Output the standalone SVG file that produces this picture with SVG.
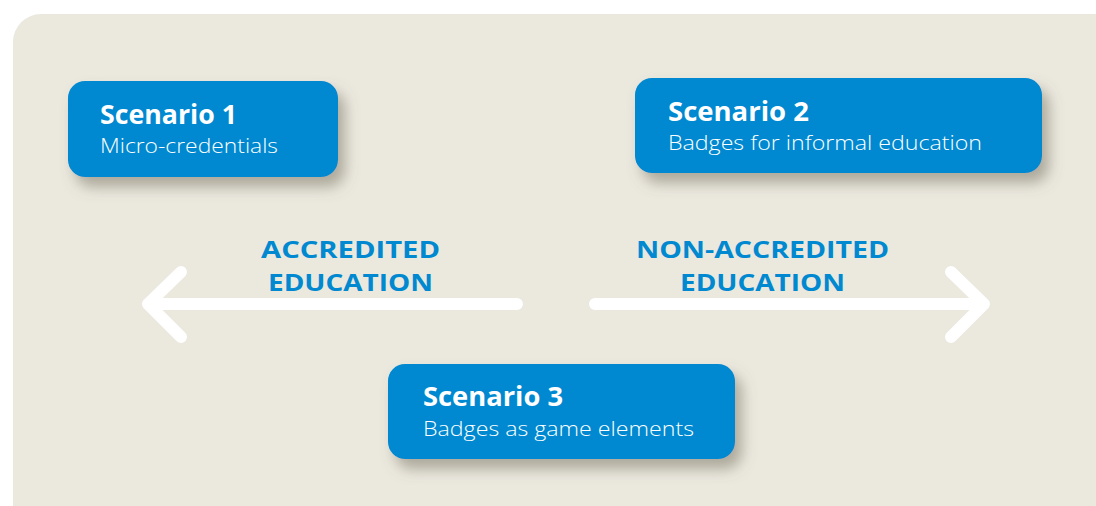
<svg xmlns="http://www.w3.org/2000/svg" width="1096" height="506" viewBox="0 0 1096 506">
  <defs>
    <filter id="shadow" x="-20%" y="-30%" width="150%" height="180%">
      <feDropShadow dx="7" dy="10" stdDeviation="7" flood-color="#6e6a58" flood-opacity="0.5"/>
    </filter>
    <style>
      .box { fill: #0089D0; filter: url(#shadow); }
      .title { font-family: "Open Sans", "Noto Sans", sans-serif; font-weight: 700; font-size: 26px; fill: #ffffff; }
      .sub { font-family: "Open Sans", "Noto Sans", sans-serif; font-weight: 300; font-size: 20px; fill: #ffffff; }
      .label { font-family: "Open Sans", "Noto Sans", sans-serif; font-weight: 700; font-size: 24px; fill: #0089D0; }
      .arrow { fill: none; stroke: #ffffff; stroke-width: 12; stroke-linecap: round; stroke-linejoin: round; }
    </style>
  </defs>
  <rect x="0" y="0" width="1096" height="506" fill="#ffffff"/>
  <rect x="13" y="14" width="1110" height="520" rx="28" ry="28" fill="#EBE8DE"/>

  <g id="connectors">
    <path class="arrow" d="M517 304 H148 M181 272 L148 304 L181 337"/>
    <path class="arrow" d="M595 304 H984 M951 272 L984 304 L951 337"/>
    <text class="label" x="261" y="258" textLength="179" lengthAdjust="spacingAndGlyphs">ACCREDITED</text>
    <text class="label" x="268" y="291" textLength="165" lengthAdjust="spacingAndGlyphs">EDUCATION</text>
    <text class="label" x="636" y="258" textLength="253" lengthAdjust="spacingAndGlyphs">NON-ACCREDITED</text>
    <text class="label" x="680" y="291" textLength="165" lengthAdjust="spacingAndGlyphs">EDUCATION</text>
  </g>

  <g id="scenario1">
    <rect class="box" x="68" y="81" width="270" height="96" rx="17" ry="17"/>
    <text class="title" x="100" y="124" textLength="137" lengthAdjust="spacingAndGlyphs">Scenario 1</text>
    <text class="sub" x="100" y="153" textLength="178" lengthAdjust="spacingAndGlyphs">Micro-credentials</text>
  </g>

  <g id="scenario2">
    <rect class="box" x="635" y="78" width="407" height="95" rx="17" ry="17"/>
    <text class="title" x="668" y="121" textLength="141" lengthAdjust="spacingAndGlyphs">Scenario 2</text>
    <text class="sub" x="668" y="150" textLength="314" lengthAdjust="spacingAndGlyphs">Badges for informal education</text>
  </g>

  <g id="scenario3">
    <rect class="box" x="388" y="364" width="347" height="95" rx="17" ry="17"/>
    <text class="title" x="423" y="406" textLength="140" lengthAdjust="spacingAndGlyphs">Scenario 3</text>
    <text class="sub" x="423" y="436" textLength="271" lengthAdjust="spacingAndGlyphs">Badges as game elements</text>
  </g>
</svg>
